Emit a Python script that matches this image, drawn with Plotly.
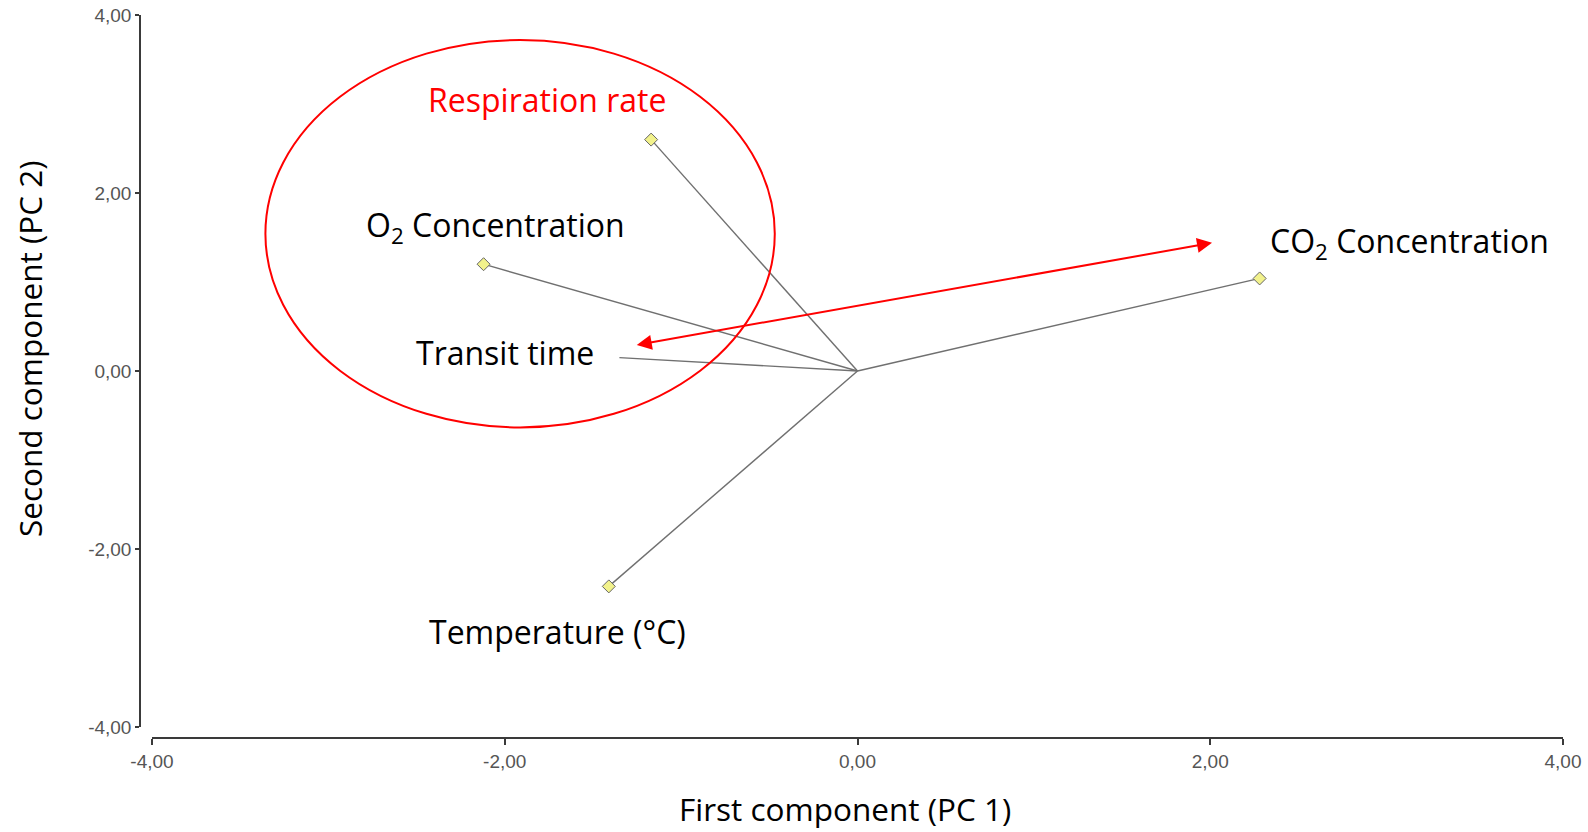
import plotly.graph_objects as go

# PCA loadings (PC1, PC2) for each variable
variables = ["Respiration rate", "O2 Concentration", "CO2 Concentration", "Transit time", "Temperature (°C)"]
pc1 = [-1.17, -2.12, 2.28, -1.35, -1.41]
pc2 = [2.60, 1.20, 1.04, 0.15, -2.42]
show_marker = [True, True, True, False, True]

tick_vals = [-4, -2, 0, 2, 4]
tick_text = ["-4,00", "-2,00", "0,00", "2,00", "4,00"]

# Label text and placement for each loading
label_text = ["Respiration rate", "O<sub>2</sub> Concentration", "CO<sub>2</sub> Concentration",
              "Transit time", "Temperature (°C)"]
label_x = [-1.76, -2.055, 3.13, -2.00, -1.70]
label_y = [3.05, 1.62, 1.44, 0.21, -2.93]
label_color = ["#ff0000", "#000000", "#000000", "#000000", "#000000"]

W, H = 1588, 832
ML, MR, MT, MB = 140, 25, 15, 94
X0_PX, Y0_PX = 152, 727  # where the data area starts inside the plotting region

LABEL_FONT = "Open Sans, sans-serif"
LABEL_SIZE = 32
TITLE_SIZE = 31.5
TICK_FONT = dict(family="Liberation Sans, Arial, sans-serif", size=19, color="#555555")
AXIS_COLOR = "#3a3a3a"

fig = go.Figure()

# Loading vectors drawn from the origin
for vx, vy in zip(pc1, pc2):
    fig.add_trace(go.Scatter(
        x=[0, vx], y=[0, vy], mode="lines",
        line=dict(color="#707070", width=1.4),
        hoverinfo="skip", showlegend=False))

# Variable end points
fig.add_trace(go.Scatter(
    x=[x for x, m in zip(pc1, show_marker) if m],
    y=[y for y, m in zip(pc2, show_marker) if m],
    mode="markers",
    marker=dict(symbol="diamond", size=10, color="#f2f28c",
                line=dict(color="#666666", width=1)),
    text=[v for v, m in zip(variables, show_marker) if m],
    hoverinfo="text", showlegend=False))

plot_w = W - ML - MR
plot_h = H - MT - MB

annotations = []
for t, lx, ly, c in zip(label_text, label_x, label_y, label_color):
    annotations.append(dict(
        x=lx, y=ly, xref="x", yref="y", text=t, showarrow=False,
        font=dict(family=LABEL_FONT, size=LABEL_SIZE, color=c),
        xanchor="center", yanchor="middle"))

# Axis titles
annotations.append(dict(
    x=(845 - ML) / plot_w, y=(H - MB - 808) / plot_h, xref="paper", yref="paper",
    text="First component (PC 1)", showarrow=False,
    font=dict(family=LABEL_FONT, size=TITLE_SIZE, color="#000000"),
    xanchor="center", yanchor="middle"))
annotations.append(dict(
    x=(29 - ML) / plot_w, y=(H - MB - 349) / plot_h, xref="paper", yref="paper",
    text="Second component (PC 2)", showarrow=False, textangle=-90,
    font=dict(family=LABEL_FONT, size=TITLE_SIZE, color="#000000"),
    xanchor="center", yanchor="middle"))

# Double-headed arrow contrasting transit time and CO2 concentration
annotations.append(dict(
    x=2.01, y=1.44, ax=-1.26, ay=0.29,
    xref="x", yref="y", axref="x", ayref="y",
    text="", showarrow=True, arrowhead=2, startarrowhead=2,
    arrowside="end+start", arrowsize=1.5, startarrowsize=1.5,
    arrowwidth=2, arrowcolor="#ff0000"))

axis_common = dict(
    range=[-4, 4], tickvals=tick_vals, ticktext=tick_text,
    showgrid=False, zeroline=False, automargin=False,
    showline=True, linecolor=AXIS_COLOR, linewidth=1.5,
    ticks="outside", tickwidth=1.5, tickcolor=AXIS_COLOR,
    tickfont=TICK_FONT,
    anchor="free", position=0,
)

fig.update_layout(
    width=W, height=H,
    margin=dict(l=ML, r=MR, t=MT, b=MB, pad=0, autoexpand=False),
    paper_bgcolor="white", plot_bgcolor="white",
    showlegend=False,
    annotations=annotations,
    shapes=[dict(
        type="circle", xref="x", yref="y",
        x0=-3.357, x1=-0.469, y0=-0.634, y1=3.719,
        line=dict(color="#ff0000", width=2))],
    xaxis=dict(domain=[(X0_PX - ML) / plot_w, 1], ticklen=6, **axis_common),
    # bottom of the data area sits above the x-axis line
    yaxis=dict(domain=[(H - MB - Y0_PX) / plot_h, 1], ticklen=4, **axis_common),
)

fig.write_html("out.html")
